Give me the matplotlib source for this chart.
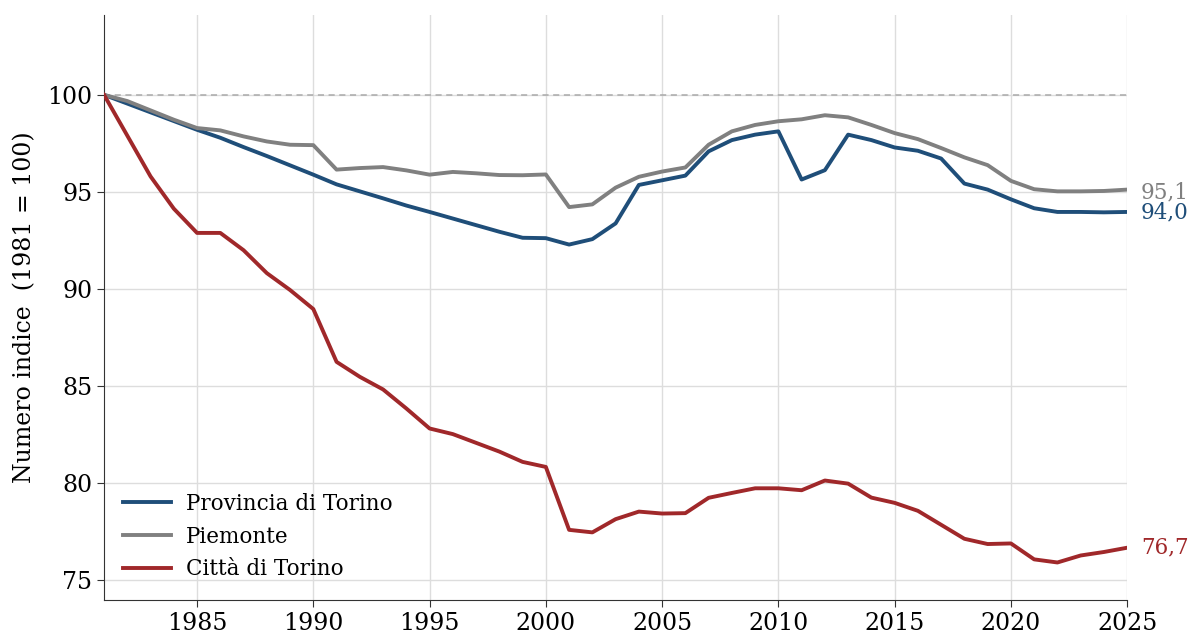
import numpy as np
import matplotlib
matplotlib.use("Agg")
import matplotlib.pyplot as plt

plt.rcParams['font.family'] = ['DejaVu Serif']

# dati: numero indice popolazione (1981 = 100)
anni = list(range(1981, 2026))
provincia = [100.0, 99.55, 99.1, 98.65, 98.2, 97.79, 97.31, 96.85, 96.37, 95.89,
             95.39, 95.03, 94.67, 94.3, 93.97, 93.63, 93.29, 92.95, 92.64, 92.62,
             92.29, 92.57, 93.38, 95.36, 95.6, 95.84, 97.09, 97.67, 97.95, 98.12,
             95.64, 96.12, 97.95, 97.67, 97.29, 97.12, 96.72, 95.43, 95.12, 94.62,
             94.16, 93.97, 93.97, 93.95, 93.97]
piemonte = [100.0, 99.68, 99.2, 98.72, 98.29, 98.17, 97.86, 97.6, 97.43, 97.41,
            96.15, 96.23, 96.28, 96.11, 95.89, 96.03, 95.96, 95.87, 95.86, 95.9,
            94.22, 94.36, 95.22, 95.78, 96.05, 96.26, 97.43, 98.12, 98.45, 98.64,
            98.74, 98.95, 98.84, 98.45, 98.03, 97.72, 97.26, 96.78, 96.38, 95.57,
            95.14, 95.03, 95.03, 95.05, 95.12]
citta = [100.0, 97.9, 95.8, 94.14, 92.89, 92.89, 92.0, 90.82, 89.95, 88.97,
         86.25, 85.48, 84.83, 83.85, 82.82, 82.53, 82.08, 81.63, 81.1, 80.84,
         77.6, 77.47, 78.15, 78.54, 78.44, 78.46, 79.25, 79.5, 79.74, 79.74,
         79.64, 80.14, 79.98, 79.26, 78.99, 78.58, 77.86, 77.14, 76.87, 76.9,
         76.08, 75.92, 76.28, 76.46, 76.68]

serie = [("Provincia di Torino", provincia, "#1f4e79"),
         ("Piemonte", piemonte, "#808080"),
         ("Città di Torino", citta, "#a0282a")]

fig = plt.figure(figsize=(11.89, 6.34), dpi=100)
ax = fig.add_axes([0.0875, 0.054, 0.8605, 0.922])

ax.axhline(100, color="#aaaaaa", lw=1.1, ls=(0, (4, 3)), zorder=1)
for nome, val, col in serie:
    ax.plot(anni, val, color=col, lw=2.8, label=nome, zorder=3)

# etichette finali
offs = {"Provincia di Torino": -0.05, "Piemonte": -0.12, "Città di Torino": 0.0}
for nome, val, col in serie:
    ax.text(anni[-1] + 0.6, val[-1] + offs[nome], f"{val[-1]:.1f}".replace(".", ","),
            color=col, fontsize=15.5, va="center", ha="left", clip_on=False)

ax.set_xlim(1981, 2025)
ax.set_ylim(74, 104.1)
ax.set_xticks(range(1985, 2026, 5))
ax.set_yticks(range(75, 101, 5))
ax.grid(True, color="#dddddd", lw=1)
ax.set_axisbelow(True)
ax.tick_params(labelsize=17, color="#333333", length=5)
for s in ["top", "right"]:
    ax.spines[s].set_visible(False)
for s in ["left", "bottom"]:
    ax.spines[s].set_color("#333333")
ax.set_ylabel("Numero indice  (1981 = 100)", fontsize=17)
ax.yaxis.set_label_coords(-0.066, 0.5)

ax.legend(loc="lower left", frameon=False, fontsize=15.5, handlelength=2.2,
          handletextpad=0.7, labelspacing=0.5,
          bbox_to_anchor=(0.0, 0.0), borderaxespad=0.5)

fig.savefig("out.png", dpi=100)
